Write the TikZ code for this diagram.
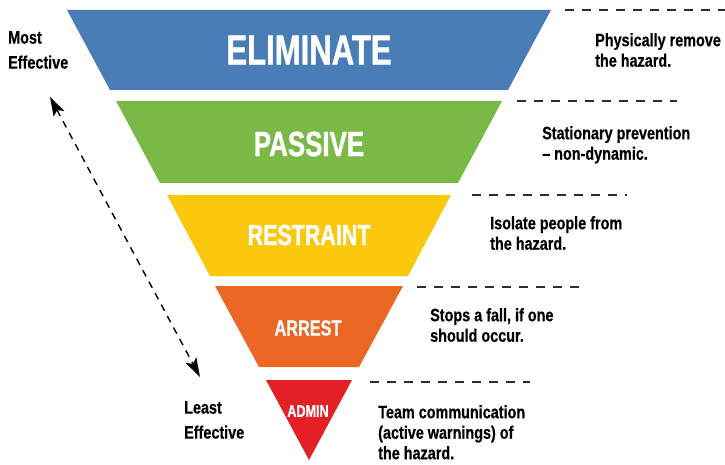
\documentclass[tikz,border=0pt]{standalone}
\usepackage{fontspec}
\setmainfont{Liberation Sans}
\newfontfamily\condfont{Liberation Sans}[FakeStretch=0.8,FakeBold=0.5]
\newfontfamily\titlefont{Liberation Sans}[FakeStretch=0.74,FakeBold=1]
\usepackage{tikz}
\usetikzlibrary{arrows.meta}

\definecolor{elimblue}{RGB}{72,125,181}
\definecolor{passgreen}{RGB}{122,185,70}
\definecolor{restyellow}{RGB}{250,200,12}
\definecolor{arrorange}{RGB}{236,102,36}
\definecolor{admred}{RGB}{226,32,38}
\definecolor{inkgray}{RGB}{45,45,45}

\begin{document}
\begin{tikzpicture}[x=1pt,y=-1pt,>={Stealth[length=19pt,width=12pt,inset=4pt]},
    bandtext/.style={text=white,inner sep=0pt},
    guide/.style={inkgray,line width=1.6pt,dash pattern=on 9pt off 8pt},
    desc/.style={anchor=north west,inner sep=0pt,align=left,
      font=\condfont\bfseries\fontsize{18}{20.5}\selectfont},
    side/.style={anchor=north west,inner sep=0pt,align=left,
      font=\condfont\bfseries\fontsize{18}{25}\selectfont}]

  \useasboundingbox (0,0) rectangle (725,465);

  % the inverted pyramid
  \fill[elimblue]   (67,10)  -- (551,10)  -- (508,90)  -- (110,90)  -- cycle;
  \fill[passgreen]  (116,101) -- (502,101) -- (458,183) -- (160,183) -- cycle;
  \fill[restyellow] (167,195) -- (451,195) -- (408,276) -- (210,276) -- cycle;
  \fill[arrorange]  (215,286) -- (403,286) -- (359,367) -- (259,367) -- cycle;
  \fill[admred]     (266,380) -- (352,380) -- (309,460) -- cycle;

  \node[bandtext,font=\titlefont\bfseries\fontsize{42}{42}\selectfont] (elim) at (309,50)  {ELIMINATE};
  \node[bandtext,font=\titlefont\bfseries\fontsize{35}{35}\selectfont] (pass) at (309,144) {PASSIVE};
  \node[bandtext,font=\titlefont\bfseries\fontsize{29}{29}\selectfont] (rest) at (309,235) {RESTRAINT};
  \node[bandtext,font=\titlefont\bfseries\fontsize{22}{22}\selectfont] (arr)  at (308,328) {ARREST};
  \node[bandtext,font=\titlefont\bfseries\fontsize{17}{17}\selectfont] (adm)  at (308,411) {ADMIN};

  % dashed guides
  \coordinate (g1a) at (565,10);  \coordinate (g1b) at (725,10);
  \coordinate (g2a) at (517,101); \coordinate (g2b) at (677,101);
  \coordinate (g3a) at (472,195); \coordinate (g3b) at (627,195);
  \coordinate (g4a) at (417,287); \coordinate (g4b) at (582,287);
  \coordinate (g5a) at (370,382); \coordinate (g5b) at (530,382);
  \draw[guide] (g1a) -- (g1b);
  \draw[guide] (g2a) -- (g2b);
  \draw[guide] (g3a) -- (g3b);
  \draw[guide] (g4a) -- (g4b);
  \draw[guide] (g5a) -- (g5b);

  \node[desc] (d1) at (595,33)  {Physically remove\\the hazard.};
  \node[desc] (d2) at (542,126) {Stationary prevention\\– non-dynamic.};
  \node[desc] (d3) at (490,216) {Isolate people from\\the hazard.};
  \node[desc] (d4) at (430,308) {Stops a fall, if one\\should occur.};
  \node[desc] (d5) at (378,405) {Team communication\\(active warnings) of\\the hazard.};

  % effectiveness scale
  \node[side] (most)  at (8,31)    {Most\\Effective};
  \node[side] (least) at (184,401) {Least\\Effective};
  \coordinate (top) at (50,97);
  \coordinate (bot) at (200,377);
  \draw[<->,line width=1.4pt,dash pattern=on 7pt off 6pt] (top) -- (bot);

\end{tikzpicture}
\end{document}
